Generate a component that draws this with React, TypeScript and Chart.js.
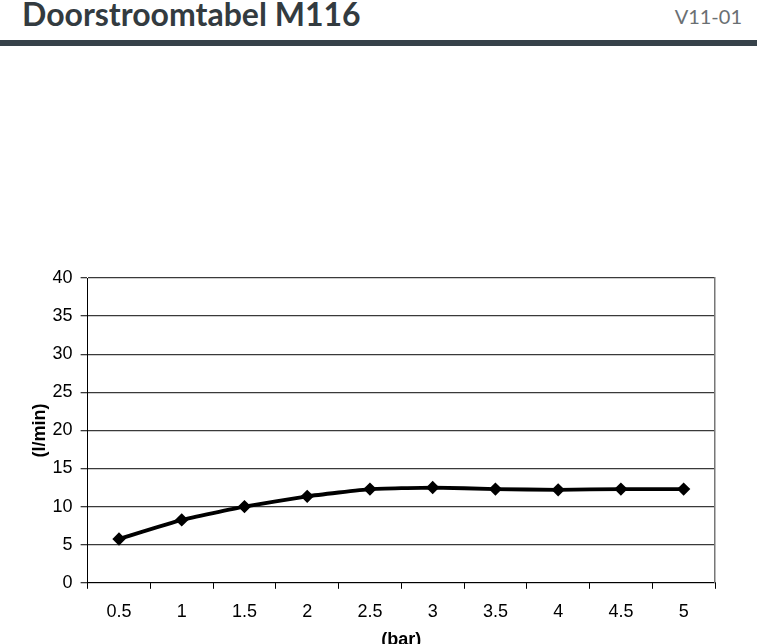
import React, { useEffect, useRef } from "react";
import { Chart, registerables } from "chart.js";

Chart.register(...registerables);

const categories = ["0.5", "1", "1.5", "2", "2.5", "3", "3.5", "4", "4.5", "5"];
const flowValues = [5.75, 8.25, 10.0, 11.35, 12.3, 12.5, 12.3, 12.2, 12.3, 12.3];
const yTicks = [0, 5, 10, 15, 20, 25, 30, 35, 40];
const titleText = "Doorstroomtabel M116";
const versionText = "V11-01";
const xTitle = "(bar)";
const yTitle = "(l/min)";

const FONT = "'Liberation Sans', Arial, sans-serif";

export default function App() {
  const ref = useRef<HTMLCanvasElement | null>(null);

  useEffect(() => {
    if (!ref.current) return;
    const chart = new Chart(ref.current, {
      type: "line",
      data: {
        labels: categories,
        datasets: [
          {
            data: flowValues,
            borderColor: "#000",
            backgroundColor: "#000",
            borderWidth: 3.8,
            pointStyle: "rectRot",
            pointRadius: 4,
            pointHoverRadius: 4,
            tension: 0.12,
            fill: false,
          },
        ],
      },
      options: {
        animation: false,
        responsive: false,
        maintainAspectRatio: false,
        layout: { padding: { left: 29, right: 42, top: 278, bottom: -7 } },
        plugins: { legend: { display: false }, tooltip: { enabled: false } },
        scales: {
          x: {
            type: "category",
            offset: true,
            grid: {
              offset: true,
              drawOnChartArea: false,
              drawTicks: true,
              tickLength: 6,
              color: "#000",
            },
            border: { color: "#000", width: 1 },
            ticks: {
              color: "#000",
              font: { family: FONT, size: 18 },
              padding: 12,
              maxRotation: 0,
            },
            title: {
              display: true,
              text: xTitle,
              color: "#000",
              font: { family: FONT, size: 18, weight: "bold" },
              padding: { top: -5, bottom: 0 },
            },
          },
          y: {
            min: 0,
            max: 40,
            afterBuildTicks: (axis: any) => {
              axis.ticks = yTicks.map((v) => ({ value: v }));
            },
            grid: {
              color: "#3a3a3a",
              lineWidth: 1.3,
              drawTicks: true,
              tickLength: 7,
            },
            border: { color: "#000", width: 1 },
            ticks: {
              color: "#000",
              font: { family: FONT, size: 18 },
              padding: 8,
            },
            title: {
              display: true,
              text: yTitle,
              color: "#000",
              font: { family: FONT, size: 18, weight: "bold" },
              padding: { top: 0, bottom: -6 },
            },
          },
          y2: {
            position: "right",
            min: 0,
            max: 40,
            grid: { drawOnChartArea: false, drawTicks: false },
            border: { color: "#777", width: 1.5 },
            ticks: { display: false },
          },
        },
      },
    });
    return () => chart.destroy();
  }, []);

  return (
    <div style={{ position: "absolute", left: 0, top: 0, width: 757, height: 644, background: "#fff", overflow: "hidden" }}>
      <div
        style={{
          position: "absolute",
          left: 22,
          top: -6,
          fontFamily: "Lato, sans-serif",
          fontWeight: 700,
          fontSize: 32,
          color: "#333b40",
          whiteSpace: "nowrap",
        }}
      >
        {titleText}
      </div>
      <div
        style={{
          position: "absolute",
          right: 15,
          top: 4,
          fontFamily: "Lato, sans-serif",
          fontWeight: 400,
          fontSize: 20,
          color: "#6a6f73",
          whiteSpace: "nowrap",
        }}
      >
        {versionText}
      </div>
      <div style={{ position: "absolute", left: 0, top: 40, width: 757, height: 6, background: "#37424a" }} />
      <canvas ref={ref} width={757} height={644} style={{ position: "absolute", left: 0, top: 0 }} />
    </div>
  );
}
